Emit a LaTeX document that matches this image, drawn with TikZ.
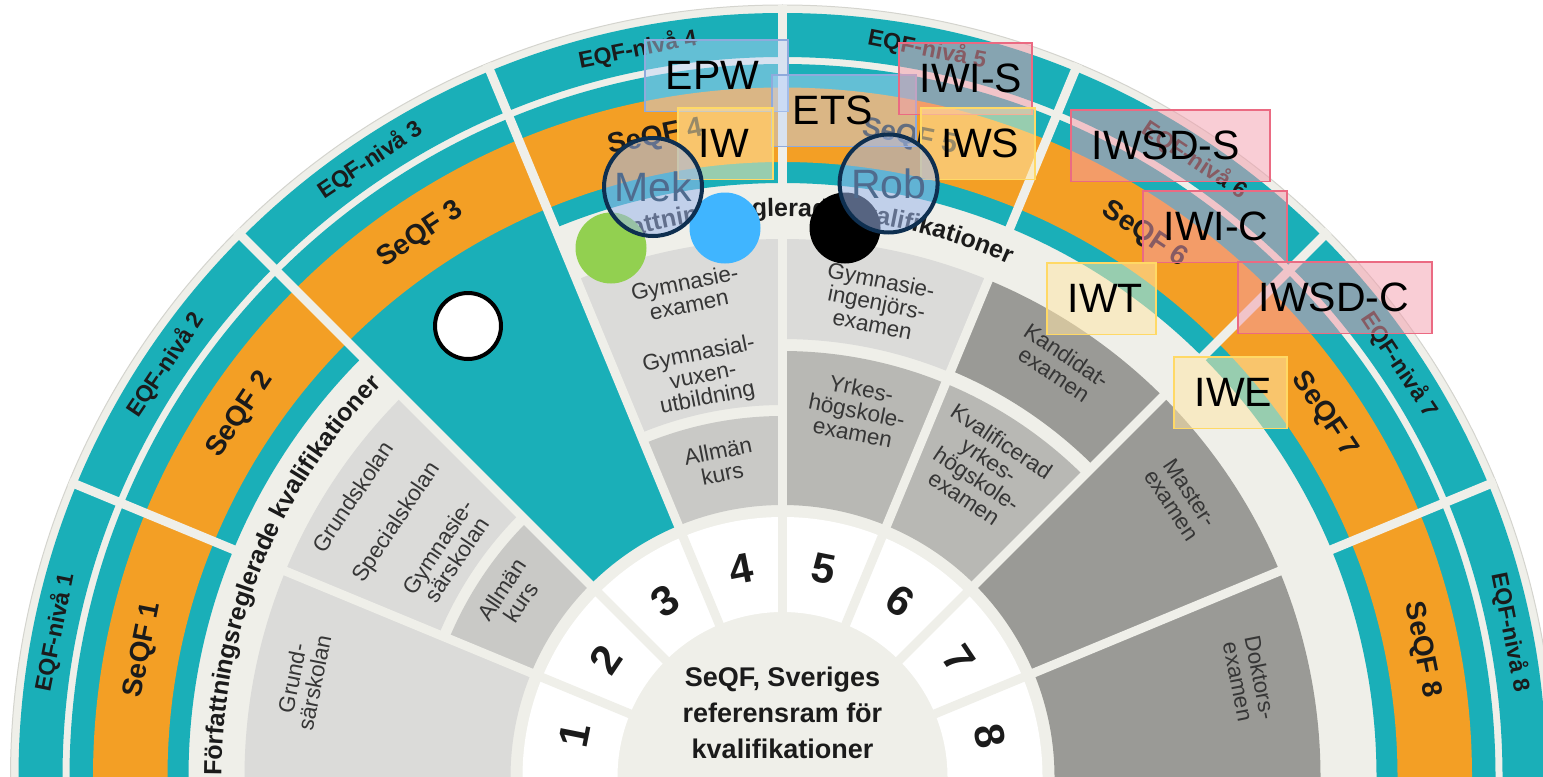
\documentclass[tikz,border=0pt]{standalone}
\usepackage{fontspec}
\setmainfont{Liberation Sans}
\usetikzlibrary{decorations.text}

\definecolor{wheelteal}{HTML}{1AAFB8}
\definecolor{wheelorange}{HTML}{F39F25}
\definecolor{offwhite}{HTML}{EFEFE9}
\definecolor{rimgray}{HTML}{D4D4CE}
\definecolor{celllight}{HTML}{DBDBD9}
\definecolor{cellmid}{HTML}{C9C9C6}
\definecolor{cellyrke}{HTML}{B8B8B4}
\definecolor{celldark}{HTML}{9A9A96}
\definecolor{celltext}{HTML}{363636}
\definecolor{labeltext}{HTML}{1B1B1B}
\definecolor{tagblue}{HTML}{BDD4FA}
\definecolor{tagblueline}{HTML}{8FAADC}
\definecolor{taggold}{HTML}{FFE6A8}
\definecolor{taggoldline}{HTML}{FFD966}
\definecolor{tagpink}{HTML}{F39BAB}
\definecolor{tagpinkline}{HTML}{EB6A82}
\definecolor{ringfill}{HTML}{9DB7EC}
\definecolor{ringline}{HTML}{0E2F50}
\definecolor{ringtext}{HTML}{4F6B8E}
\definecolor{dotgreen}{HTML}{92D050}
\definecolor{dotblue}{HTML}{40B5FF}

\newcommand{\ringcell}[5]{\fill [#1] (#2:#4) arc [start angle=#2, end angle=#3, radius=#4] -- (#3:#5) arc [start angle=#3, end angle=#2, radius=#5] -- cycle;}

\tikzset{
  eqflabel/.style={font=\bfseries\fontsize{23bp}{23bp}\selectfont, text=labeltext},
  seqflabel/.style={font=\bfseries\fontsize{28bp}{28bp}\selectfont, text=labeltext},
  levelnum/.style={font=\bfseries\fontsize{42bp}{42bp}\selectfont, text=labeltext},
  centerlabel/.style={font=\bfseries\fontsize{27bp}{36bp}\selectfont, text=labeltext, align=center},
  celllabel/.style={font=\fontsize{22.5bp}{22.5bp}\selectfont, text=celltext, align=center},
  sepline/.style={offwhite, line width=9bp},
  tagbox/.style={draw, line width=1.6bp, anchor=north west, minimum height=71.5bp, inner xsep=0pt, inner ysep=0pt, text width=#1, align=left, text=black, text opacity=1, execute at begin node=\hspace*{21bp}, font=\fontsize{41bp}{41bp}\selectfont},
  bluetag/.style={tagbox=#1, fill=tagblue, fill opacity=0.45, draw=tagblueline},
  goldtag/.style={tagbox=#1, fill=taggold, fill opacity=0.55, draw=taggoldline},
  pinktag/.style={tagbox=#1, fill=tagpink, fill opacity=0.5, draw=tagpinkline},
  dot/.style={circle, minimum size=71bp},
  ringlabel/.style={circle, draw=ringline, line width=4bp, fill=ringfill, fill opacity=0.55, text opacity=1, text=ringtext, minimum size=98bp, font=\fontsize{41bp}{41bp}\selectfont}
}

\begin{document}
\begin{tikzpicture}[x=1bp, y=1bp]
\tikzstyle{every node}+=[inner sep=0pt]
\useasboundingbox (0,0) rectangle (1543,-776);
\begin{scope}[shift={(782.5,-777)}]
\fill [offwhite] (0,0) circle (772);
\draw [rimgray, line width=1bp] (0,0) circle (772);
\fill [wheelteal, even odd rule] (0,0) circle (764) (0,0) circle (720);
\fill [wheelteal, even odd rule] (0,0) circle (713) (0,0) circle (594);
\fill [wheelorange, even odd rule] (0,0) circle (689.5) (0,0) circle (615);
\ringcell{wheelteal}{112.5}{135}{272}{600}
\ringcell{celllight}{157.5}{180}{272}{538}
\ringcell{celllight}{135}{157.5}{372}{538}
\ringcell{cellmid}{135}{157.5}{272}{361}
\ringcell{celllight}{90}{112.5}{372}{538}
\ringcell{cellmid}{90}{112.5}{272}{361}
\ringcell{celllight}{67.5}{90}{438}{538}
\ringcell{cellyrke}{67.5}{90}{272}{426}
\ringcell{celldark}{45}{67.5}{440}{538}
\ringcell{cellyrke}{45}{67.5}{272}{426}
\ringcell{celldark}{22.5}{45}{272}{538}
\ringcell{celldark}{0}{22.5}{272}{538}
\fill [white, even odd rule] (0,0) circle (260) (0,0) circle (165);
\draw [sepline] (22.5:160) -- (22.5:772);
\draw [sepline] (45:160) -- (45:772);
\draw [sepline] (67.5:160) -- (67.5:772);
\draw [sepline] (90:160) -- (90:772);
\draw [sepline] (112.5:160) -- (112.5:772);
\draw [sepline] (135:160) -- (135:772);
\draw [sepline] (157.5:160) -- (157.5:772);
\node [eqflabel, rotate=78.75] (eqf1) at (168.75:742) {EQF-nivå 1};
\node [eqflabel, rotate=56.25] (eqf2) at (146.25:742) {EQF-nivå 2};
\node [eqflabel, rotate=33.75] (eqf3) at (123.75:742) {EQF-nivå 3};
\node [eqflabel, rotate=11.25] (eqf4) at (101.25:742) {EQF-nivå 4};
\node [eqflabel, rotate=-11.25] (eqf5) at (78.75:742) {EQF-nivå 5};
\node [eqflabel, rotate=-33.75] (eqf6) at (56.25:742) {EQF-nivå 6};
\node [eqflabel, rotate=-56.25] (eqf7) at (33.75:742) {EQF-nivå 7};
\node [eqflabel, rotate=-78.75] (eqf8) at (11.25:742) {EQF-nivå 8};
\node [seqflabel, rotate=78.75] (seqf1) at (168.75:652) {SeQF 1};
\node [seqflabel, rotate=56.25] (seqf2) at (146.25:652) {SeQF 2};
\node [seqflabel, rotate=33.75] (seqf3) at (123.75:652) {SeQF 3};
\node [seqflabel, rotate=11.25] (seqf4) at (101.25:652) {SeQF 4};
\node [seqflabel, rotate=-11.25] (seqf5) at (78.75:652) {SeQF 5};
\node [seqflabel, rotate=-33.75] (seqf6) at (56.25:652) {SeQF 6};
\node [seqflabel, rotate=-56.25] (seqf7) at (33.75:652) {SeQF 7};
\node [seqflabel, rotate=-78.75] (seqf8) at (11.25:652) {SeQF 8};
\node [levelnum, rotate=78.75] (num1) at (168.75:212) {1};
\node [levelnum, rotate=56.25] (num2) at (146.25:212) {2};
\node [levelnum, rotate=33.75] (num3) at (123.75:212) {3};
\node [levelnum, rotate=11.25] (num4) at (101.25:212) {4};
\node [levelnum, rotate=-11.25] (num5) at (78.75:212) {5};
\node [levelnum, rotate=-33.75] (num6) at (56.25:212) {6};
\node [levelnum, rotate=-56.25] (num7) at (33.75:212) {7};
\node [levelnum, rotate=-78.75] (num8) at (11.25:212) {8};
\node [celllabel, rotate=78.75] (grundsar) at (168.6:489) {Grund-\\särskolan};
\node [celllabel, rotate=56.25] (grundskolan) at (146.9:513) {Grundskolan};
\node [celllabel, rotate=56.25] (specialskolan) at (146.6:462) {Specialskolan};
\node [celllabel, rotate=56.25] (gymnsar) at (146.3:403) {Gymnasie-\\särskolan};
\node [celllabel, rotate=56.25] (allmanA) at (146.25:326) {Allmän\\kurs};
\node [celllabel, rotate=11.25] (gymnexamen) at (101.2:493) {Gymnasie-\\examen};
\node [celllabel, rotate=11.25] (gymnvuxen) at (101.2:408) {Gymnasial-\\vuxen-\\utbildning};
\node [celllabel, rotate=11.25] (allmanB) at (101.2:321) {Allmän\\kurs};
\node [celllabel, rotate=-11.25] (gymning) at (78.75:484) {Gymnasie-\\ingenjörs-\\examen};
\node [celllabel, rotate=-11.25] (yrkeshog) at (78.5:374) {Yrkes-\\högskole-\\examen};
\node [celllabel, rotate=-33.75] (kandidat) at (56:497) {Kandidat-\\examen};
\node [celllabel, rotate=-33.75] (kvalyrkes) at (56.9:367) {Kvalificerad\\yrkes-\\högskole-\\examen};
\node [celllabel, rotate=-56.25] (master) at (34.9:486) {Master-\\examen};
\node [celllabel, rotate=-78.75] (doktors) at (11.8:477) {Doktors-\\examen};
\node [centerlabel] (seqfcenter) at (0,64) {SeQF, Sveriges\\referensram för\\kvalifikationer};
\path [decorate, decoration={text along path, text align=center, text={|\bfseries\fontsize{25bp}{25bp}\selectfont\color{labeltext}|Författningsreglerade kvalifikationer}}] (181:561) arc [start angle=181, end angle=134.5, radius=561];
\path [decorate, decoration={text along path, text align=center, text={|\bfseries\fontsize{25bp}{25bp}\selectfont\color{labeltext}|Författningsreglerade kvalifikationer}}] (112:561) arc [start angle=112, end angle=64.6, radius=561];
\end{scope}
\node [bluetag=143bp] (epw) at (644,-39) {EPW};
\node [bluetag=144bp] (ets) at (771,-74) {ETS};
\node [goldtag=95bp] (iw) at (677,-107) {IW};
\node [pinktag=133bp] (iwis) at (898,-42) {IWI-S};
\node [goldtag=114bp] (iws) at (920,-107) {IWS};
\node [pinktag=199bp] (iwsds) at (1070,-109) {IWSD-S};
\node [pinktag=144bp] (iwic) at (1142,-190) {IWI-C};
\node [goldtag=109bp] (iwt) at (1046,-262) {IWT};
\node [pinktag=194bp] (iwsdc) at (1237,-261) {IWSD-C};
\node [goldtag=113bp] (iwe) at (1173,-356) {IWE};
\node [dot, fill=dotgreen] (greendot) at (611,-248) {};
\node [dot, fill=dotblue] (bluedot) at (725,-228) {};
\node [dot, fill=black] (blackdot) at (845,-228) {};
\node [dot, fill=white, draw=black, line width=4bp, minimum size=66bp] (whitedot) at (468,-326) {};
\node [ringlabel] (mek) at (653,-187) {Mek};
\node [ringlabel] (rob) at (888.6,-183.5) {Rob};
\end{tikzpicture}
\end{document}
